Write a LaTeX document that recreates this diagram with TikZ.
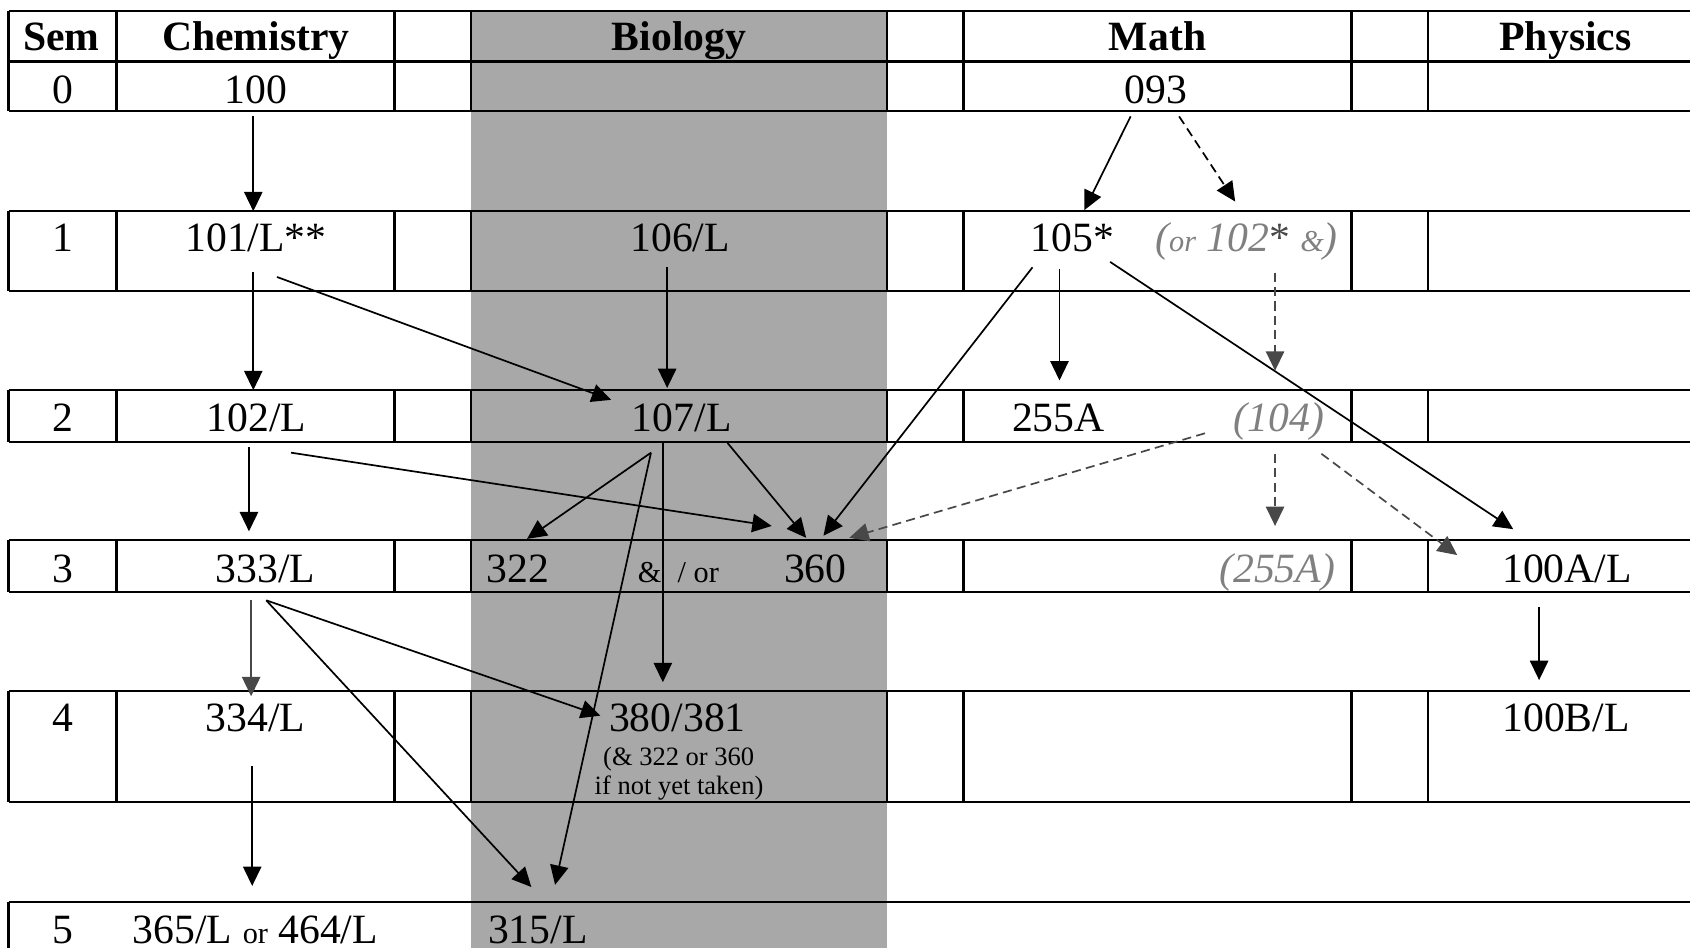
\documentclass[tikz,border=0pt]{standalone}
\usepackage{fontspec}
\setmainfont{Liberation Serif}
\usepackage{tikz}
\usetikzlibrary{arrows,arrows.meta,positioning}
\usepackage{xcolor}
\definecolor{biogray}{RGB}{168,168,168}
\definecolor{altgray}{RGB}{128,128,128}
\definecolor{darkarrow}{RGB}{72,72,72}
\newcommand{\smtxt}{\fontsize{8}{9}\selectfont}
\tikzstyle{arrow} = [line width=0.45pt,-{Triangle[length=1.8mm,width=1.7mm]}]
\tikzstyle{optarrow} = [arrow,dash pattern=on 2.4pt off 1.4pt]
\tikzstyle{altarrow} = [optarrow,color=darkarrow]
\tikzstyle{tblline} = [line width=0.6pt]
\tikzstyle{courselbl} = [anchor=base,inner sep=0pt,font=\fontsize{11}{13}\selectfont]
\tikzstyle{hdrlbl} = [courselbl,font=\fontsize{11}{13}\selectfont\bfseries]
\tikzstyle{altlbl} = [courselbl,text=altgray,font=\fontsize{11}{13}\selectfont\itshape]
\tikzstyle{notelbl} = [courselbl,font=\fontsize{7}{8}\selectfont]

\begin{document}
\begin{tikzpicture}[x=0.1mm,y=-0.1mm]
\useasboundingbox (0,0) rectangle (1568,880);

% Biology column
\fill[biogray] (437,10) rectangle (823,880);

% Table rows
\draw[tblline] (8,10) -- (1568,10) (8,57) -- (1568,57) (8,103) -- (1568,103);
\draw[tblline] (8,196) -- (1568,196) (8,270) -- (1568,270);
\draw[tblline] (8,362) -- (1568,362) (8,410) -- (1568,410);
\draw[tblline] (8,501) -- (1568,501) (8,549) -- (1568,549);
\draw[tblline] (8,641) -- (1568,641) (8,744) -- (1568,744);
\draw[tblline] (8,837) -- (1568,837) (8,837) -- (8,880);

% Column borders
\draw[tblline] (8,10) -- (8,103) (108,10) -- (108,103) (366,10) -- (366,103) (437,10) -- (437,103)
  (823,10) -- (823,103) (894,10) -- (894,103) (1254,10) -- (1254,103) (1325,10) -- (1325,103);
\draw[tblline] (8,196) -- (8,270) (108,196) -- (108,270) (366,196) -- (366,270) (437,196) -- (437,270)
  (823,196) -- (823,270) (894,196) -- (894,270) (1254,196) -- (1254,270) (1325,196) -- (1325,270);
\draw[tblline] (8,362) -- (8,410) (108,362) -- (108,410) (366,362) -- (366,410) (437,362) -- (437,410)
  (823,362) -- (823,410) (894,362) -- (894,410) (1254,362) -- (1254,410) (1325,362) -- (1325,410);
\draw[tblline] (8,501) -- (8,549) (108,501) -- (108,549) (366,501) -- (366,549) (437,501) -- (437,549)
  (823,501) -- (823,549) (894,501) -- (894,549) (1254,501) -- (1254,549) (1325,501) -- (1325,549);
\draw[tblline] (8,641) -- (8,744) (108,641) -- (108,744) (366,641) -- (366,744) (437,641) -- (437,744)
  (823,641) -- (823,744) (894,641) -- (894,744) (1254,641) -- (1254,744) (1325,641) -- (1325,744);

% Headers
\node[hdrlbl] (hSem) at (57,47) {Sem};
\node[hdrlbl] (hChem) at (237.5,47) {Chemistry};
\node[hdrlbl] (hBio) at (630,47) {Biology};
\node[hdrlbl] (hMath) at (1074,47) {Math};
\node[hdrlbl] (hPhys) at (1452.5,47) {Physics};

% Semester 0
\node[courselbl] (s0) at (58,96) {0};
\node[courselbl] (c100) at (237.5,96) {100};
\node[courselbl] (m093) at (1072.5,96) {093};

% Semester 1
\node[courselbl] (s1) at (58,233.5) {1};
\node[courselbl] (c101) at (237.5,233.5) {101/L**};
\node[courselbl] (b106) at (631,233.5) {106/L};
\node[courselbl] (m105) at (995,233.5) {105*};
\node[altlbl] (m102) at (1156.5,233.5) {({\smtxt or} 102\textcolor{darkarrow}{\textup{*}} {\smtxt\&})};

% Semester 2
\node[courselbl] (s2) at (58,400.5) {2};
\node[courselbl] (c102) at (238,400.5) {102/L};
\node[courselbl] (b107) at (632.5,400.5) {107/L};
\node[courselbl] (m255) at (982,400.5) {255A};
\node[altlbl] (m104) at (1186.6,400.5) {(104)};

% Semester 3
\node[courselbl] (s3) at (58,540) {3};
\node[courselbl] (c333) at (246.4,540) {333/L};
\node[courselbl] (b322) at (480.6,540) {322};
\node[courselbl] (bor) at (629.5,540) {\smtxt\&\hspace{1.5mm}/ or};
\node[courselbl] (b360) at (756.4,540) {360};
\node[altlbl] (m255b) at (1185,540) {(255A)};
\node[courselbl] (p100A) at (1454,540) {100A/L};

% Semester 4
\node[courselbl] (s4) at (58,679) {4};
\node[courselbl] (c334) at (237,679) {334/L};
\node[courselbl] (b380) at (628.5,679) {380/381};
\node[notelbl] (bnote1) at (629.7,710) {(\& 322 or 360};
\node[notelbl] (bnote2) at (630,737) {if not yet taken)};
\node[courselbl] (p100B) at (1453,679) {100B/L};

% Semester 5
\node[courselbl] (s5) at (58,875) {5};
\node[courselbl] (c365) at (237,875) {365/L {\smtxt or} 464/L};
\node[courselbl] (b315) at (499,875) {315/L};

% Arrow ends
\coordinate (o100) at (235,108);   \coordinate (i101) at (235,196);
\coordinate (o093a) at (1049,108); \coordinate (i105) at (1006,195);
\coordinate (o093b) at (1094,108); \coordinate (i102) at (1146,187);
\coordinate (o101a) at (235,252);  \coordinate (i102L) at (235,362);
\coordinate (o101b) at (257,257);  \coordinate (i107a) at (567,371);
\coordinate (o106) at (619,248);   \coordinate (i107b) at (619,360);
\coordinate (o105a) at (958,248);  \coordinate (i360c) at (764,497);
\coordinate (o105b) at (983,250);  \coordinate (i255) at (983,353);
\coordinate (o105c) at (1030,243); \coordinate (i100A) at (1404,491);
\coordinate (o102s) at (1183,253); \coordinate (i104) at (1183,344);
\coordinate (o102La) at (231,415); \coordinate (i333) at (231,493);
\coordinate (o102Lb) at (270,420); \coordinate (i360a) at (716,488);
\coordinate (o107a) at (604,420);  \coordinate (i322) at (489,500);
\coordinate (i315b) at (515,821);
\coordinate (o107b) at (615,410);  \coordinate (i380a) at (615,633);
\coordinate (o107c) at (675,411);  \coordinate (i360b) at (748,499);
\coordinate (o104a) at (1118,402); \coordinate (i360d) at (788,499);
\coordinate (o104b) at (1183,421); \coordinate (i255b) at (1183,488);
\coordinate (o104c) at (1226,421); \coordinate (i100Ab) at (1352,515);
\coordinate (o333a) at (233,557);  \coordinate (i334) at (233,646);
\coordinate (o333b) at (247,557);  \coordinate (i380b) at (557,664);
\coordinate (i315a) at (493,823);
\coordinate (o334) at (234,711);   \coordinate (i365) at (234,822);
\coordinate (o100A) at (1428,563); \coordinate (i100B) at (1428,631);

% Prerequisites
\draw[arrow] (o100) -- (i101);
\draw[arrow] (o093a) -- (i105);
\draw[optarrow] (o093b) -- (i102);
\draw[arrow] (o101a) -- (i102L);
\draw[arrow] (o101b) -- (i107a);
\draw[arrow] (o106) -- (i107b);
\draw[arrow] (o105a) -- (i360c);
\draw[arrow] (o105b) -- (i255);
\draw[arrow] (o105c) -- (i100A);
\draw[altarrow] (o102s) -- (i104);
\draw[arrow] (o102La) -- (i333);
\draw[arrow] (o102Lb) -- (i360a);
\draw[arrow] (o107a) -- (i322);
\draw[arrow] (o107a) -- (i315b);
\draw[arrow] (o107b) -- (i380a);
\draw[arrow] (o107c) -- (i360b);
\draw[altarrow] (o104a) -- (i360d);
\draw[altarrow] (o104b) -- (i255b);
\draw[altarrow] (o104c) -- (i100Ab);
\draw[arrow,darkarrow] (o333a) -- (i334);
\draw[arrow] (o333b) -- (i380b);
\draw[arrow] (o333b) -- (i315a);
\draw[arrow] (o334) -- (i365);
\draw[arrow] (o100A) -- (i100B);
\end{tikzpicture}
\end{document}
